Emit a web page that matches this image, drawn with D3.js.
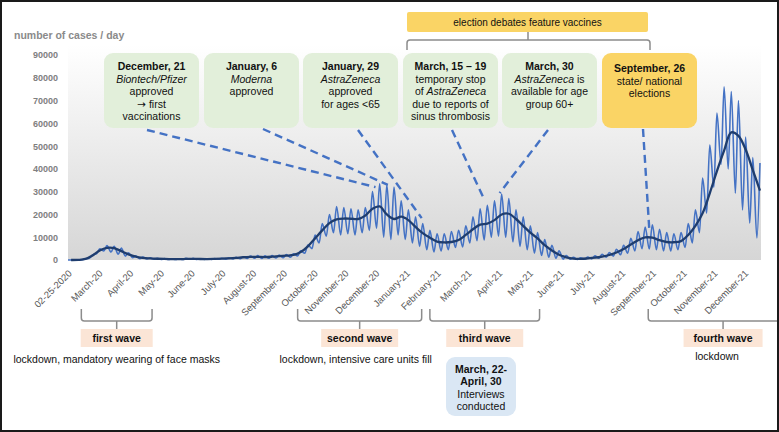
<!DOCTYPE html>
<html>
<head>
<meta charset="utf-8">
<script src="https://cdn.jsdelivr.net/npm/d3@7"></script>
<style>
  body { margin: 0; background: #fff; }
  svg { display: block; font-family: "Liberation Sans", Arial, sans-serif; }
</style>
</head>
<body>
<svg id="chart" width="779" height="432"></svg>
<script>
// weekly readings, week 0 starts 02-25-2020
const rawLow = [
  0, 10, 100, 900, 2800, 4000, 3500, 2500, 1700, 1000,
  600, 450, 350, 250, 200, 200, 250, 300, 250, 250,
  250, 300, 400, 500, 600, 700, 800, 700, 800, 900,
  1000, 1200, 1800, 3000, 5000, 7500, 10500, 12000, 11000, 11500,
  11000, 12000, 13000, 14000, 10000, 9000, 11000, 9000, 7500, 6000,
  4500, 3500, 4000, 4500, 5500, 5700, 7500, 8500, 8800, 10000,
  10500, 10000, 8000, 6000, 4500, 3000, 2000, 1200, 800, 400,
  300, 250, 300, 500, 800, 1200, 1700, 2300, 3000, 4000,
  5000, 4800, 4500, 4000, 4000, 4500, 5500, 7500, 12000, 20600,
  32000, 42000, 40000, 29300, 22000, 16200, 9700
];
const rawHigh = [
  10, 60, 450, 2200, 4900, 6300, 6000, 5200, 3200, 1800,
  1300, 950, 750, 650, 550, 500, 700, 700, 550, 550,
  600, 750, 950, 1150, 1450, 1700, 1900, 1800, 1900, 2200,
  2400, 2700, 4000, 6600, 11000, 16000, 20000, 23500, 23000, 22500,
  22000, 23000, 30000, 33500, 33000, 32000, 26000, 22000, 19000, 16000,
  13000, 11500, 11500, 12500, 13000, 15000, 19000, 22500, 24000, 26000,
  29000, 27000, 22000, 19000, 15000, 12000, 9000, 6500, 4000, 2000,
  1200, 1000, 1300, 1800, 2500, 3300, 4700, 6500, 9500, 12500,
  14500, 15500, 13500, 12000, 11500, 12000, 16000, 22000, 36000, 50500,
  64500, 76000, 74000, 70000, 54000, 45000, 42600
];
const smoothAvg = [
  0, 60, 450, 2000, 4200, 5300, 5200, 3900, 2500, 1500,
  950, 700, 550, 450, 400, 350, 450, 520, 430, 400,
  480, 600, 750, 950, 1200, 1350, 1380, 1300, 1450, 1700,
  1900, 2200, 3500, 6000, 9500, 13000, 16200, 17800, 18200, 18100,
  18000, 19500, 22500, 23500, 20000, 18000, 19000, 17500, 14500, 11800,
  9800, 8100, 7700, 7900, 8800, 11000, 13500, 15500, 16000, 17500,
  20000, 20300, 18000, 15000, 12000, 9500, 6500, 4200, 2300, 1200,
  600, 500, 700, 1000, 1500, 2200, 3300, 4800, 6800, 8700,
  9900, 9800, 8700, 7900, 7800, 8300, 11000, 15000, 20500, 29300,
  39000, 48000, 56000, 54500, 48500, 39500, 30500
];
const tickLabels = ["02-25-2020", "March-20", "April-20", "May-20", "June-20", "July-20",
  "August-20", "September-20", "October-20", "November-20", "December-20", "January-21",
  "February-21", "March-21", "April-21", "May-21", "June-21", "July-21", "August-21",
  "September-21", "October-21", "November-21", "December-21"];
const yTicks = [0, 10000, 20000, 30000, 40000, 50000, 60000, 70000, 80000, 90000];

// annotation targets on the curve
const noteTargets = [["2020-12-21", 32000], ["2021-01-02", 33000], ["2021-02-04", 18400],
  ["2021-04-05", 27600], ["2021-04-21", 29400], ["2021-09-14", 13600]];
const waveNames = ["first wave", "second wave", "third wave", "fourth wave"];
const waveSpans = [["2020-03-09", "2020-05-17"], ["2020-10-06", "2021-02-04"],
  ["2021-02-12", "2021-05-30"], ["2021-09-13", "2022-02-06"]];
const waveNotes = ["lockdown, mandatory wearing of face masks", "lockdown, intensive care units fill", "", "lockdown"];

const dayOf = i => new Date(2020, 1, 25 + i);
const parse = d3.timeParse("%Y-%m-%d");

const svg = d3.select("#chart");
const x = d3.scaleTime().domain([dayOf(0), new Date(2022, 0, 1)]).range([68, 761]);
const y = d3.scaleLinear().domain([0, 90000]).range([260, 55]);

const defs = svg.append("defs");
const grad = defs.append("linearGradient").attr("id", "bg").attr("x1", 0).attr("y1", 0).attr("x2", 0).attr("y2", 1);
grad.append("stop").attr("offset", "0%").attr("stop-color", "#ffffff");
grad.append("stop").attr("offset", "100%").attr("stop-color", "#d6d6d6");
defs.append("clipPath").attr("id", "frame").append("rect").attr("x", 2).attr("y", 2).attr("width", 775).attr("height", 428);

svg.append("rect").attr("x", 68).attr("y", 45).attr("width", 693).attr("height", 215).attr("fill", "url(#bg)");

// y axis
const yAxis = svg.append("g").attr("transform", "translate(60,0)")
  .call(d3.axisLeft(y).tickValues(yTicks).tickFormat(d3.format("d")).tickSize(0).tickPadding(2));
yAxis.select(".domain").remove();
yAxis.selectAll("text").attr("font-size", 9).attr("font-weight", "bold").attr("fill", "#7f7f7f")
  .attr("font-family", "Liberation Sans, Arial, sans-serif");

svg.append("text").attr("x", 14).attr("y", 39).attr("font-size", 10.5).attr("font-weight", "bold")
  .attr("fill", "#8a8a8a").text("number of cases / day");

// x axis
const tickDates = tickLabels.map((d, i) => dayOf(30 * i));
const xAxis = svg.append("g").attr("transform", "translate(0,260)")
  .call(d3.axisBottom(x).tickValues(tickDates).tickFormat((d, i) => tickLabels[i]).tickSize(0));
xAxis.select(".domain").remove();
xAxis.selectAll("text").attr("x", 0).attr("y", 0).attr("dy", 0)
  .attr("text-anchor", "end").attr("transform", "translate(4,14) rotate(-45)")
  .attr("font-size", 9.5).attr("fill", "#595959").attr("font-family", "Liberation Sans, Arial, sans-serif");

// daily series: weekly low and high
const raw = [];
rawLow.forEach((v, w) => {
  raw.push({ d: dayOf(7 * w), v: v });
  raw.push({ d: dayOf(7 * w + 3), v: rawHigh[w] });
});
const smooth = smoothAvg.map((v, w) => ({ d: dayOf(7 * w + 3), v: v }));

svg.append("path").datum(raw)
  .attr("fill", "none").attr("stroke", "#4472c4").attr("stroke-width", 1.6)
  .attr("d", d3.line().x(d => x(d.d)).y(d => y(d.v)).curve(d3.curveMonotoneX));
svg.append("path").datum(smooth)
  .attr("fill", "none").attr("stroke", "#1f3d6e").attr("stroke-width", 2.3)
  .attr("d", d3.line().x(d => x(d.d)).y(d => y(d.v)).curve(d3.curveCatmullRom));

// annotation boxes
const green = "#e2efda", yellow = "#fad465";
const boxes = [
  { x: 104, fill: green, y0: 70, from: [147, 130], lines: [[["December, 21", "b"]], [["Biontech/Pfizer", "i"]], [["approved"]], [["→", "a"], [" first"]], [["vaccinations"]]] },
  { x: 204, fill: green, y0: 70, from: [263, 129], lines: [[["January, 6", "b"]], [["Moderna", "i"]], [["approved"]]] },
  { x: 303, fill: green, y0: 70, from: [358, 130], lines: [[["January, 29", "b"]], [["AstraZeneca", "i"]], [["approved"]], [["for ages <65"]]] },
  { x: 403, fill: green, y0: 70, from: [452, 130], lines: [[["March, 15 – 19", "b"]], [["temporary stop"]], [["of "], ["AstraZeneca", "i"]], [["due to reports of"]], [["sinus thrombosis"]]] },
  { x: 502, fill: green, y0: 70, from: [548, 130], lines: [[["March, 30", "b"]], [["AstraZeneca", "i"], [" is"]], [["available for age"]], [["group 60+"]]] },
  { x: 602, fill: yellow, y0: 72, from: [643, 129], lines: [[["September, 26", "b"]], [["state/ national"]], [["elections"]]] }
];

svg.selectAll(".lead").data(boxes).join("line").attr("class", "lead")
  .attr("x1", d => d.from[0]).attr("y1", d => d.from[1])
  .attr("x2", (d, i) => x(parse(noteTargets[i][0])))
  .attr("y2", (d, i) => y(noteTargets[i][1]))
  .attr("stroke", "#4472c4").attr("stroke-width", 2.4).attr("stroke-dasharray", "8,5");

function writeLines(g, lines, cx, y0, step) {
  lines.forEach((segs, i) => {
    const t = g.append("text").attr("x", cx).attr("y", y0 + i * step)
      .attr("text-anchor", "middle").attr("font-size", 10.5).attr("fill", "#111");
    segs.forEach(s => {
      t.append("tspan").text(s[0])
        .attr("font-weight", s[1] === "b" ? "bold" : null)
        .attr("font-style", s[1] === "i" ? "italic" : null)
        .attr("font-family", s[1] === "a" ? "DejaVu Sans, sans-serif" : null);
    });
  });
}

const boxG = svg.selectAll(".note").data(boxes).join("g").attr("class", "note");
boxG.append("rect").attr("x", d => d.x).attr("y", 53).attr("width", 95).attr("height", 75)
  .attr("rx", 9).attr("fill", d => d.fill);
boxG.each(function (d) { writeLines(d3.select(this), d.lines, d.x + 47.5, d.y0, 12.6); });

// election banner and brace
svg.append("rect").attr("x", 407).attr("y", 12).attr("width", 241).attr("height", 20).attr("rx", 2).attr("fill", yellow);
svg.append("text").attr("x", 527.5).attr("y", 26).attr("text-anchor", "middle").attr("font-size", 10)
  .attr("fill", "#111").text("election debates feature vaccines");

function brace(x0, x1, xm, yEnd, yMid, yTip) {
  const r = yEnd > yMid ? -3 : 3;
  return `M${x0},${yEnd} L${x0},${yMid - r} Q${x0},${yMid} ${x0 + 3},${yMid} L${x1 - 3},${yMid} Q${x1},${yMid} ${x1},${yMid - r} L${x1},${yEnd} M${xm},${yMid} L${xm},${yTip}`;
}
svg.append("path").attr("d", brace(407, 650, 528, 50, 40, 32))
  .attr("fill", "none").attr("stroke", "#8c8c8c").attr("stroke-width", 1.5);

// waves below the axis
const waveG = svg.selectAll(".wave").data(waveNames).join("g").attr("class", "wave");
waveG.each(function (name, i) {
  const g = d3.select(this);
  const x0 = x(parse(waveSpans[i][0])), x1 = x(parse(waveSpans[i][1]));
  const xm = (x0 + x1) / 2;
  g.append("path").attr("d", brace(x0, x1, xm, 309, 321, 329)).attr("clip-path", "url(#frame)")
    .attr("fill", "none").attr("stroke", "#8c8c8c").attr("stroke-width", 1.5);
  const w = [72, 77, 77, 79][i];
  g.append("rect").attr("x", xm - w / 2).attr("y", 329).attr("width", w).attr("height", 18).attr("fill", "#fbe5d6");
  g.append("text").attr("x", xm).attr("y", 342).attr("text-anchor", "middle").attr("font-size", 10.5)
    .attr("font-weight", "bold").attr("fill", "#111").text(name);
  g.append("text").attr("x", xm - (i === 1 ? 4 : i === 3 ? 6 : 0)).attr("y", i === 3 ? 360 : 363).attr("text-anchor", "middle")
    .attr("font-size", 10.5).attr("fill", "#111").text(waveNotes[i]);
});

// interviews box
const iv = svg.append("g");
iv.append("rect").attr("x", 446).attr("y", 357).attr("width", 70).attr("height", 59).attr("rx", 9).attr("fill", "#dae7f4");
writeLines(iv, [[["March, 22-", "b"]], [["April, 30", "b"]], [["Interviews"]], [["conducted"]]], 481, 373, 12.4);

// outer frame
svg.append("rect").attr("x", 1).attr("y", 1).attr("width", 777).attr("height", 430)
  .attr("fill", "none").attr("stroke", "#1a1a1a").attr("stroke-width", 2);
</script>
</body>
</html>
